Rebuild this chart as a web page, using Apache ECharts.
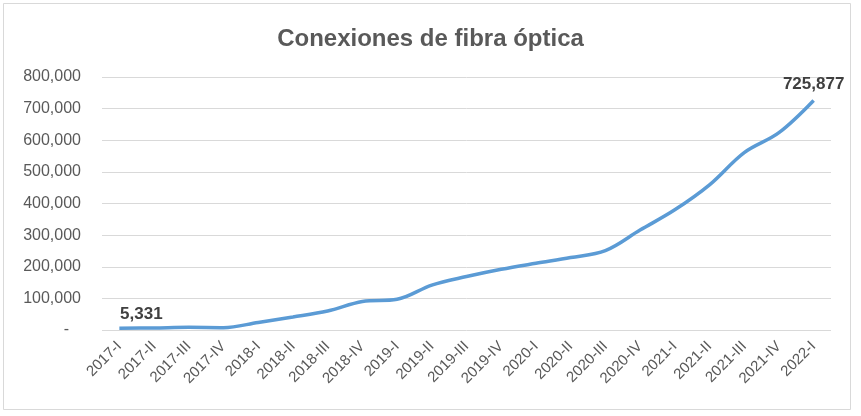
<!DOCTYPE html>
<html><head><meta charset="utf-8">
<script src="https://cdn.jsdelivr.net/npm/echarts@6/dist/echarts.min.js"></script>
<style>html,body{margin:0;padding:0;background:#fff}#c{width:861px;height:416px}</style>
</head><body><div id="c"></div>
<script>
const titleText = 'Conexiones de fibra óptica';
const categories = ['2017-I','2017-II','2017-III','2017-IV','2018-I','2018-II','2018-III','2018-IV','2019-I','2019-II','2019-III','2019-IV','2020-I','2020-II','2020-III','2020-IV','2021-I','2021-II','2021-III','2021-IV','2022-I'];
const connections = [5331, 6500, 8500, 7500, 24000, 41000, 60000, 90000, 97000, 142000, 169000, 192000, 211000, 229000, 251000, 316000, 380000, 459000, 561000, 624000, 725877];
const labeledIdx = [0, 20];

const fmt = v => v.toLocaleString('en-US');
const chart = echarts.init(document.getElementById('c'), null, {renderer:'canvas'});
chart.setOption({
  backgroundColor: '#fff',
  animation: false,
  graphic: [{type:'rect', shape:{x:3.5,y:3.5,width:847,height:406}, style:{fill:'none', stroke:'#d9d9d9', lineWidth:1}, silent:true}],
  title: {text: titleText, left: 'center', top: 22, textStyle:{fontFamily:'Liberation Sans', fontWeight:'bold', fontSize:24, color:'#595959'}},
  grid: {left: 102, right: 30, top: 77, bottom: 86},
  xAxis: {
    type: 'category', data: categories, boundaryGap: true,
    axisLine: {show: false}, axisTick: {show: false},
    axisLabel: {rotate: 45, interval: 0, margin: 14, fontFamily:'Liberation Sans', fontSize: 15, color:'#595959'}
  },
  yAxis: {
    type: 'value', min: 0, max: 800000, interval: 100000,
    axisLine: {show:false}, axisTick: {show:false},
    splitLine: {lineStyle:{color:'#d9d9d9', width:1}},
    axisLabel: {margin: 21, fontFamily:'Liberation Sans', fontSize: 16, color:'#595959',
      formatter: v => v === 0 ? '{d|-}' : fmt(v),
      rich: {d: {padding:[0,12,0,0], fontFamily:'Liberation Sans', fontSize:16, color:'#595959'}}}
  },
  series: [{
    type: 'line', data: connections.map((v,i)=>({value:v, label:{show: labeledIdx.includes(i)}})),
    smooth: 0.35, symbol: 'circle', symbolSize: 0, showSymbol: true,
    lineStyle: {color:'#5B9BD5', width: 3.5}, itemStyle:{color:'#5B9BD5'},
    label: {position:'top', distance: 8, fontFamily:'Liberation Sans', fontWeight:'bold', fontSize:17, color:'#404040', formatter: p => fmt(p.value)},
    labelLayout: p => p.dataIndex === 0 ? {dx: 22, dy: 2} : {}
  }]
});
</script></body></html>
